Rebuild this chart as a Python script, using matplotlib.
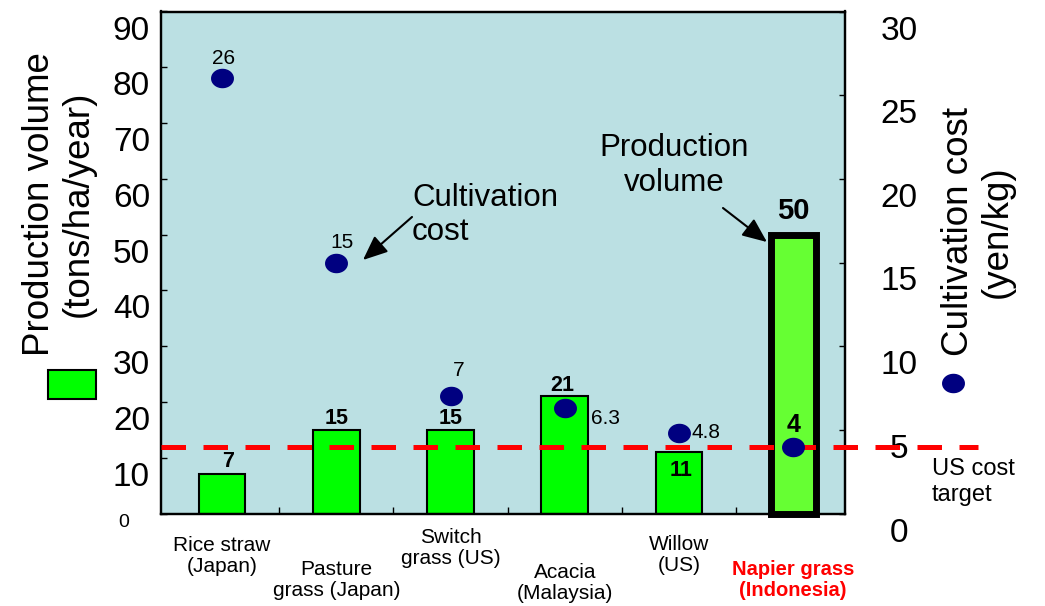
import matplotlib
matplotlib.use('Agg')
import matplotlib.pyplot as plt
from matplotlib.patches import Rectangle
from matplotlib.transforms import ScaledTranslation
import numpy as np

plt.rcParams['font.family'] = ['Liberation Sans', 'DejaVu Sans']

# データ
categories = ['Rice straw\n(Japan)', 'Pasture\ngrass (Japan)', 'Switch\ngrass (US)',
              'Acacia\n(Malaysia)', 'Willow\n(US)', 'Napier grass\n(Indonesia)']
production = [7, 15, 15, 21, 11, 50]          # tons/ha/year
cost = [26, 15, 7, 6.3, 4.8, 4]               # yen/kg
cost_labels = ['26', '15', '7', '6.3', '4.8', '4']
us_cost_target = 4
left_ticks = list(range(0, 100, 10))
right_ticks = list(range(0, 35, 5))

# 配置 (ラベル位置など)
label_y = [-0.084, -0.133, -0.068, -0.138, -0.082, -0.132]
bar_label_off = [(6, 13), (0, 11), (0, 11), (-3, 11), (2, -18), (0, 24)]
cost_label_off = [(2, 20, 'center'), (6, 20, 'center'), (8, 26, 'center'),
                  (26, -10, 'left'), (13, 1, 'left'), (0, 22, 'center')]

# 少し横長の楕円マーカー
t = np.linspace(0, 2 * np.pi, 60)
ellipse = np.column_stack([np.cos(t), 0.84 * np.sin(t)])

fig = plt.figure(figsize=(10.45, 6.06), dpi=100)
ax = fig.add_axes([161/1045, 92.5/606, 684/1045, 502/606])
ax.set_facecolor('#bbe0e3')
ax2 = ax.twinx()

x = np.arange(len(categories))
bar_colors = ['#00ff00'] * 5 + ['#66ff33']
bar_widths = [0.41] * 5 + [0.39]
bar_lw = [1.5] * 5 + [5]
bars = ax.bar(x, production, width=bar_widths, color=bar_colors,
              edgecolor='black', linewidth=bar_lw, zorder=2)
bars[-1].set_clip_on(False)

ax.set_xlim(-0.534, 5.453)
ax.set_ylim(0, 90)
ax2.set_ylim(0, 30)

for s in ax.spines.values():
    s.set_linewidth(1.6)

# 棒グラフの値
for i, v in enumerate(production):
    dx, dy = bar_label_off[i]
    ax.annotate(str(v), (x[i], v), xytext=(dx, dy), textcoords='offset pixels',
                ha='center', va='center', fontsize=21 if i == 5 else 15.5,
                fontweight='bold', zorder=5)

# 栽培コスト
ax2.axhline(us_cost_target, xmin=0, xmax=1.194, color='#ff0000', lw=3.6,
            linestyle=(0, (4.9, 3.5)), clip_on=False, zorder=3)
ax2.plot(x, cost, linestyle='none', marker=ellipse, markersize=15.5,
         color='#000080', zorder=4)
for i, v in enumerate(cost):
    dx, dy, ha = cost_label_off[i]
    last = (i == len(cost) - 1)
    ax2.annotate(cost_labels[i], (x[i], v), xytext=(dx, dy), textcoords='offset pixels',
                 ha=ha, va='center', fontsize=18 if last else 15,
                 fontweight='bold' if last else 'normal', zorder=5)

# x軸
ax.set_xticks(np.arange(0.5, 5, 1))
ax.set_xticklabels([])
ax.tick_params(axis='x', direction='in', length=5, width=1)
for i, c in enumerate(categories):
    napier = (i == 5)
    ax.text(x[i], label_y[i], c, transform=ax.get_xaxis_transform(),
            ha='center', va='center', fontsize=15 if not napier else 14.5,
            color='#ff0000' if napier else 'black',
            fontweight='bold' if napier else 'normal', linespacing=1.15)

# y軸 (ラベルは目盛りより少し下)
ax.set_yticks(left_ticks)
ax.tick_params(axis='y', direction='in', length=4.5, width=1, labelsize=24, pad=8)
ax2.set_yticks(right_ticks)
ax2.tick_params(axis='y', direction='in', length=4.5, width=1, labelsize=24, pad=39)
for s in ax2.spines.values():
    s.set_linewidth(1.6)

for k, tk in enumerate(ax.yaxis.get_major_ticks()):
    lab = tk.label1
    if k == 0:
        lab.set_fontsize(14)
        off = ScaledTranslation(-21/100, -7/100, fig.dpi_scale_trans)
    else:
        off = ScaledTranslation(0, -16/100, fig.dpi_scale_trans)
    lab.set_transform(lab.get_transform() + off)
for tk in ax2.yaxis.get_major_ticks():
    lab = tk.label2
    lab.set_horizontalalignment('center')
    lab.set_transform(lab.get_transform() + ScaledTranslation(0, -16/100, fig.dpi_scale_trans))

# 軸タイトル
fig.text(59/1045, 1 - 204/606, 'Production volume\n(tons/ha/year)', rotation=90,
         ha='center', va='center', fontsize=26.5, linespacing=1.15)
fig.text(978/1045, 1 - 232/606, 'Cultivation cost\n(yen/kg)', rotation=90,
         ha='center', va='center', fontsize=26.5, linespacing=1.15)

# 凡例の代わりのマーク
fig.add_artist(Rectangle((48/1045, 1 - 399/606), 48/1045, 29/606,
                         transform=fig.transFigure, facecolor='#00ff00',
                         edgecolor='black', linewidth=1.5))
ax2.plot([1.158], [0.26], transform=ax2.transAxes, marker=ellipse, markersize=15.5,
         color='#000080', clip_on=False)

fig.text(932/1045, 1 - 482/606, 'US cost\ntarget', ha='left', va='center',
         fontsize=17, linespacing=1.2)

# 注釈
arrow = dict(arrowstyle='-|>,head_length=0.75,head_width=0.32',
             mutation_scale=20, lw=1.5, color='black', shrinkA=0, shrinkB=0)
ax2.text(1.663, 17.84, 'Cultivation\ncost', ha='left', va='center', fontsize=22.5,
         linespacing=1.18, zorder=5)
ax2.annotate('', xy=(1.234, 15.15), xytext=(1.663, 17.72), arrowprops=arrow)
ax.text(3.956, 62.4, 'Production\nvolume', ha='center', va='center', fontsize=22.5,
        linespacing=1.18, zorder=5)
ax.annotate('', xy=(4.770, 48.67), xytext=(4.385, 54.77), arrowprops=arrow)

fig.savefig('out.png', dpi=100)
